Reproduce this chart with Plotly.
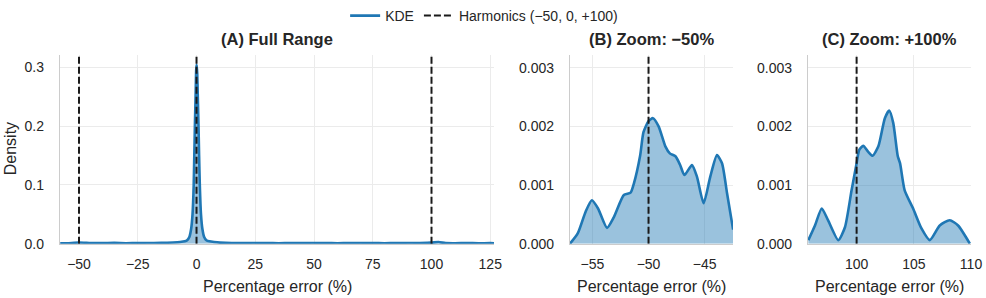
import plotly.graph_objects as go

# ---------------- data ----------------
full_x = [-58, -55, -50, -45, -40, -35, -30, -25, -20, -15, -10, -7, -5, -4, -3,
          -2.3, -1.7, -1.2, -0.95, -0.7, -0.4, -0.15, 0.05, 0.3, 0.55, 0.85, 1.1,
          1.4, 1.9, 2.5, 3.2, 4.2, 5.5, 7.5, 10, 15, 20, 25, 30, 35, 40, 45, 50,
          55, 60, 65, 70, 75, 80, 85, 90, 95, 100, 103, 106, 110, 115, 120, 125, 127]
full_y = [0.0006, 0.0008, 0.0020, 0.0012, 0.0010, 0.0013, 0.0008, 0.0012, 0.0009,
          0.0013, 0.0020, 0.0028, 0.0040, 0.0060, 0.0120, 0.025, 0.05, 0.10, 0.15,
          0.20, 0.25, 0.295, 0.305, 0.29, 0.25, 0.20, 0.15, 0.10, 0.05, 0.025,
          0.012, 0.006, 0.004, 0.0028, 0.0018, 0.0010, 0.0012, 0.0009, 0.0011,
          0.0008, 0.0010, 0.0012, 0.0009, 0.0011, 0.0008, 0.0010, 0.0009, 0.0011,
          0.0008, 0.0010, 0.0009, 0.0012, 0.0018, 0.0028, 0.0010, 0.0008, 0.0010,
          0.0008, 0.0009, 0.0007]

neg_x = [-57.0, -56.3, -55.6, -55.05, -54.5, -53.7, -53.1, -52.2, -51.6, -51.3,
         -50.75, -50.45, -50.0, -49.6, -49.1, -48.5, -48.1, -47.6, -47.2, -46.8,
         -46.13, -45.68, -45.09, -44.5, -43.9, -43.45, -43.0, -42.46]
neg_y = [0.0, 0.00018, 0.00055, 0.00074, 0.0006, 0.00027, 0.00045, 0.00083,
         0.00087, 0.00103, 0.0015, 0.0019, 0.00209, 0.00214, 0.0020, 0.00166,
         0.00154, 0.00149, 0.00135, 0.00117, 0.00134, 0.00114, 0.00069, 0.00114,
         0.00151, 0.00137, 0.00086, 0.00024]

pos_x = [95.78, 96.36, 96.95, 97.5, 98.4, 98.98, 99.56, 100.0, 100.23, 100.58,
         101.0, 101.4, 101.9, 102.47, 102.85, 103.2, 103.6, 103.8, 104.2, 104.94,
         105.67, 106.4, 107.27, 108.14, 108.87, 109.9]
pos_y = [0.00006, 0.00031, 0.0006, 0.0004, 0.00006, 0.00028, 0.00091, 0.00137,
         0.0016, 0.00167, 0.00157, 0.0015, 0.00166, 0.00214, 0.00227, 0.00206,
         0.00149, 0.00137, 0.00091, 0.0006, 0.00026, 0.00006, 0.00031, 0.0004,
         0.00031, 0.0]

harmonics = [-50, 0, 100]
titles = ["(A) Full Range", "(B) Zoom: −50%", "(C) Zoom: +100%"]
x_ranges = [[-58.1, 126.6], [-57.0, -42.47], [95.75, 110.0]]
y_tops = [0.3216, 0.00322]
x_ticks = [[-50, -25, 0, 25, 50, 75, 100, 125], [-55, -50, -45], [100, 105, 110]]
y_ticks = [[0.0, 0.1, 0.2, 0.3], [0.0, 0.001, 0.002, 0.003]]

# ---------------- styling ----------------
W, H = 986, 298
FONT = "Liberation Sans, Arial, sans-serif"
TXT = "#262626"
BLUE = "#1f77b4"
FILL = "rgba(31,119,180,0.45)"
GRID = "#ebebeb"
SPINE = "#cccccc"

x_dom = [[60 / W, 494 / W], [570 / W, 733 / W], [808 / W, 971 / W]]
y_dom = [1 - 243.5 / H, 1 - 54 / H]

fig = go.Figure()

panels = [(full_x, full_y), (neg_x, neg_y), (pos_x, pos_y)]
for i, (xs, ys) in enumerate(panels):
    xa = "x" if i == 0 else f"x{i+1}"
    ya = "y" if i == 0 else f"y{i+1}"
    # filled area
    fig.add_trace(go.Scatter(
        x=xs, y=ys, mode="lines", xaxis=xa, yaxis=ya,
        line=dict(color="rgba(0,0,0,0)", width=0, shape="spline", smoothing=0.6),
        fill="tozeroy", fillcolor=FILL, showlegend=False, hoverinfo="skip"))
    # KDE line
    fig.add_trace(go.Scatter(
        x=xs, y=ys, mode="lines", xaxis=xa, yaxis=ya,
        line=dict(color=BLUE, width=2.6, shape="spline", smoothing=0.6),
        name="KDE", showlegend=(i == 0), legendrank=1))
for i in range(3):
    xa = "x" if i == 0 else f"x{i+1}"
    ya = "y" if i == 0 else f"y{i+1}"
    top = y_tops[0] if i == 0 else y_tops[1]
    for j, h in enumerate(harmonics):
        fig.add_trace(go.Scatter(
            x=[h, h], y=[0, top], mode="lines", xaxis=xa, yaxis=ya,
            line=dict(color="#1a1a1a", width=2, dash="7px,3px"),
            name="Harmonics (−50, 0, +100)",
            showlegend=(i == 0 and j == 0), legendrank=2,
            hoverinfo="skip"))

common_axis = dict(showgrid=True, gridcolor=GRID, gridwidth=1, zeroline=False,
                   showline=True, linecolor=SPINE, linewidth=1.3, mirror=False,
                   ticks="outside", tickcolor="rgba(0,0,0,0)", automargin=False,
                   tickfont=dict(family=FONT, size=14, color=TXT))

layout = dict(
    template="none",
    width=W, height=H, margin=dict(l=0, r=0, t=0, b=0, pad=0),
    paper_bgcolor="white", plot_bgcolor="white",
    font=dict(family=FONT, color=TXT),
    showlegend=True,
    legend=dict(orientation="h", x=0.491, xanchor="center", y=1 - 15 / H,
                yanchor="middle", font=dict(family=FONT, size=14, color=TXT),
                itemwidth=30, bgcolor="rgba(0,0,0,0)", traceorder="normal"),
)
for i in range(3):
    xk = "xaxis" if i == 0 else f"xaxis{i+1}"
    yk = "yaxis" if i == 0 else f"yaxis{i+1}"
    ya = "y" if i == 0 else f"y{i+1}"
    xa = "x" if i == 0 else f"x{i+1}"
    layout[xk] = dict(common_axis, domain=x_dom[i], range=x_ranges[i],
                      tickvals=x_ticks[i], ticklen=7, anchor=ya)
    layout[yk] = dict(common_axis, domain=y_dom, anchor=xa,
                      range=[0, y_tops[0] if i == 0 else y_tops[1]],
                      tickvals=y_ticks[0] if i == 0 else y_ticks[1],
                      tickformat=".1f" if i == 0 else ".3f", ticklen=12)
fig.update_layout(**layout)

ann = []
for i in range(3):
    cx = (x_dom[i][0] + x_dom[i][1]) / 2
    ann.append(dict(text=f"<b>{titles[i]}</b>", x=cx, y=1 - 38 / H,
                    xref="paper", yref="paper", showarrow=False,
                    xanchor="center", yanchor="middle",
                    font=dict(family=FONT, size=16.5, color=TXT)))
    ann.append(dict(text="Percentage error (%)", x=cx, y=1 - 286.5 / H,
                    xref="paper", yref="paper", showarrow=False,
                    xanchor="center", yanchor="middle",
                    font=dict(family=FONT, size=16, color=TXT)))
ann.append(dict(text="Density", x=10 / W, y=(y_dom[0] + y_dom[1]) / 2,
                xref="paper", yref="paper", showarrow=False, textangle=-90,
                xanchor="center", yanchor="middle",
                font=dict(family=FONT, size=16, color=TXT)))
fig.update_layout(annotations=ann)

fig.write_html("out.html",
               config={"displayModeBar": False},
               post_script="document.body.style.margin='0px';"
                           "document.body.style.overflow='hidden';")
